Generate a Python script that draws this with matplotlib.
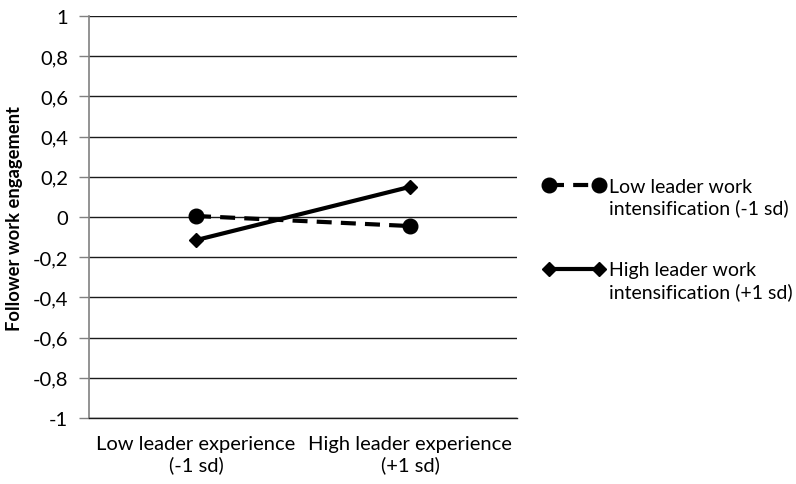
import matplotlib
matplotlib.use("Agg")
import matplotlib.pyplot as plt
import numpy as np
from matplotlib.legend_handler import HandlerLine2D

categories = ["Low leader experience\n(-1 sd)", "High leader experience\n(+1 sd)"]
low_wi = [0.005, -0.045]
high_wi = [-0.115, 0.15]
series_labels = ["Low leader work\nintensification (-1 sd)", "High leader work\nintensification (+1 sd)"]
yticks = [-1, -0.8, -0.6, -0.4, -0.2, 0, 0.2, 0.4, 0.6, 0.8, 1]
ytick_labels = ["-1", "-0,8", "-0,6", "-0,4", "-0,2", "0", "0,2", "0,4", "0,6", "0,8", "1"]

plt.rcParams['font.family'] = ['Lato', 'DejaVu Sans']
FS = 14.5


class UpHandler(HandlerLine2D):
    def create_artists(self, legend, orig_handle, xdescent, ydescent, width,
                       height, fontsize, trans):
        artists = super().create_artists(legend, orig_handle, xdescent, ydescent,
                                         width, height, fontsize, trans)
        for a in artists:
            a.set_ydata(np.asarray(a.get_ydata()) + 0.62 * fontsize)
        return artists


fig = plt.figure(figsize=(7.96, 4.85), dpi=100)
ax = fig.add_axes([0.1118, 0.136, 0.5377, 0.829])

x = list(range(len(categories)))
l1, = ax.plot(x, low_wi, color='black', lw=3, ls=(0, (3.6, 2.2)), marker='o', ms=10.5,
              label=series_labels[0])
l2, = ax.plot(x, high_wi, color='black', lw=3, ls='-', marker='D', ms=7,
              label=series_labels[1])

ax.set_xlim(-0.5, 1.5)
ax.set_ylim(-1, 1)
ax.set_yticks(yticks)
ax.set_yticklabels(ytick_labels, fontsize=FS)
ax.set_xticks(x)
ax.set_xticklabels(categories, fontsize=FS, linespacing=1.25)
ax.tick_params(axis='x', length=0, pad=12)
ax.tick_params(axis='y', length=7, width=1, color='#808080', pad=8)
ax.grid(axis='y', color='#1a1a1a', lw=1)
ax.set_axisbelow(True)
for s in ['top', 'right']:
    ax.spines[s].set_visible(False)
ax.spines['left'].set_color('#808080')
ax.spines['left'].set_linewidth(1.2)
ax.spines['bottom'].set_color('#1a1a1a')
ax.spines['bottom'].set_linewidth(1)
ax.set_ylabel("Follower work engagement", fontsize=13.2, fontweight='bold', labelpad=7)

leg = fig.legend(handles=[l1, l2], loc='upper left', bbox_to_anchor=(0.672, 0.647),
                 frameon=False, fontsize=14, handlelength=3.2, handletextpad=0.2,
                 labelspacing=2.3, borderaxespad=0, numpoints=2,
                 handler_map={l1: UpHandler(), l2: UpHandler()})
for t in leg.get_texts():
    t.set_linespacing(1.25)

fig.savefig("out.png", dpi=100)
